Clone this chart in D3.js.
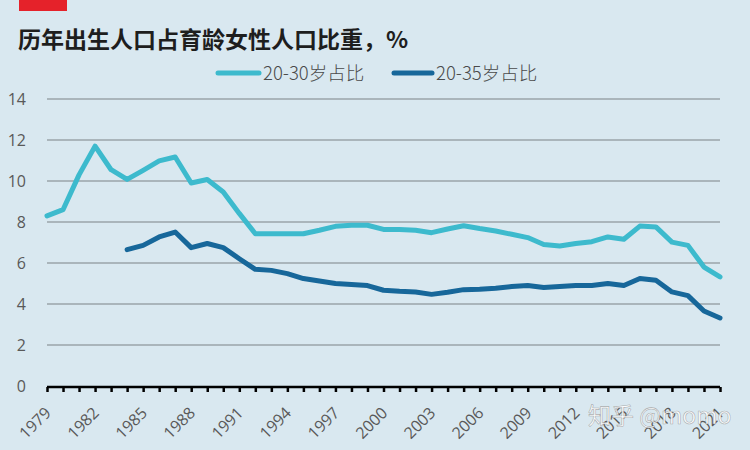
<!DOCTYPE html>
<html><head><meta charset="utf-8">
<script src="https://cdn.jsdelivr.net/npm/d3@7/dist/d3.min.js"></script>
<style>
html,body{margin:0;padding:0;background:#d9e8f0;}
svg{display:block;}
</style></head>
<body>
<svg id="c" width="750" height="450"></svg>
<script>
const years = d3.range(1979, 2022);
const tickLabels = [1979,1982,1985,1988,1991,1994,1997,2000,2003,2006,2009,2012,2015,2018,2021];
const yTicks = [0,2,4,6,8,10,12,14];
const seriesNames = ["20-30岁占比","20-35岁占比"];
const s2030 = [8.3,8.6,10.3,11.7,10.55,10.08,10.52,10.98,11.17,9.9,10.07,9.46,8.42,7.43,7.43,7.43,7.43,7.6,7.79,7.84,7.84,7.64,7.64,7.6,7.48,7.66,7.82,7.68,7.56,7.4,7.24,6.9,6.83,6.95,7.04,7.27,7.16,7.8,7.76,7.02,6.86,5.8,5.32];
const s2035 = [null,null,null,null,null,6.65,6.86,7.27,7.51,6.75,6.95,6.75,6.21,5.69,5.64,5.48,5.24,5.12,5.0,4.95,4.9,4.67,4.62,4.59,4.47,4.57,4.7,4.72,4.77,4.85,4.9,4.8,4.85,4.9,4.9,5.0,4.9,5.24,5.16,4.59,4.41,3.66,3.32];
const colors = ["#3dbacd","#17679a"];

const svg = d3.select("#c");
svg.append("rect").attr("width",750).attr("height",450).attr("fill","#d9e8f0");
svg.append("rect").attr("x",19).attr("y",0).attr("width",48).attr("height",11).attr("fill","#e5222a");
svg.append("text").attr("x",18).attr("y",48)
  .attr("font-family","'Noto Sans CJK SC', sans-serif").attr("font-size",23).attr("font-weight","bold")
  .attr("fill","#1e1e1e").text("历年出生人口占育龄女性人口比重，%");

const x = d3.scaleLinear().domain([1979,2021]).range([47,720]);
const y = d3.scaleLinear().domain([0,14]).range([386,99]);

// grid
const grid = svg.append("g");
yTicks.filter(t=>t>0).forEach(t=>{
  grid.append("line").attr("x1",47).attr("x2",720).attr("y1",y(t)).attr("y2",y(t))
    .attr("stroke","#aab5bb").attr("stroke-width",2);
});
// y labels
yTicks.forEach(t=>{
  svg.append("text").attr("x",26).attr("y",y(t)).attr("dy","0.36em").attr("text-anchor","end")
    .attr("font-family","'Open Sans', sans-serif").attr("font-size",16).attr("fill","#595959")
    .text(t);
});
// x axis
const xAxis = d3.axisBottom(x).tickValues(years).tickSize(5).tickFormat("");
const gx = svg.append("g").attr("transform","translate(0,387)").call(xAxis);
gx.select(".domain").attr("stroke","#000").attr("stroke-width",2.5).attr("d","M47,0H720");
gx.selectAll(".tick line").attr("stroke","#000").attr("stroke-width",2.5);
tickLabels.forEach(t=>{
  svg.append("text").attr("transform",`translate(${x(t)+1},410) rotate(-45)`)
    .attr("text-anchor","end").attr("dy","0.35em")
    .attr("font-family","'Open Sans', sans-serif").attr("font-size",16).attr("fill","#595959")
    .text(t);
});

// lines
const line = d3.line().defined(d=>d[1]!=null).x(d=>x(d[0])).y(d=>y(d[1]));
[s2030,s2035].forEach((s,i)=>{
  svg.append("path").datum(years.map((yr,j)=>[yr,s[j]]))
    .attr("d",line).attr("fill","none").attr("stroke",colors[i]).attr("stroke-width",5)
    .attr("stroke-linejoin","round").attr("stroke-linecap","round");
});

// legend
const leg = [{x1:218,x2:259,tx:263},{x1:394,x2:432,tx:436}];
leg.forEach((l,i)=>{
  svg.append("line").attr("x1",l.x1).attr("x2",l.x2).attr("y1",73).attr("y2",73)
    .attr("stroke",colors[i]).attr("stroke-width",5).attr("stroke-linecap","round");
  svg.append("text").attr("x",l.tx).attr("y",73).attr("dy","0.36em")
    .attr("font-family","'Noto Sans CJK SC', sans-serif").attr("font-size",18.5).attr("font-weight",300).attr("fill","#4a4a4a")
    .text(seriesNames[i]);
});

// watermark
svg.append("text").attr("x",588).attr("y",424)
  .attr("font-family","'Noto Sans CJK SC', sans-serif").attr("font-size",23)
  .attr("fill","#ffffff").attr("fill-opacity",0.9)
  .attr("stroke","#777").attr("stroke-width",0.6).attr("stroke-opacity",0.6)
  .text("知乎 @momo");
</script>
</body></html>
